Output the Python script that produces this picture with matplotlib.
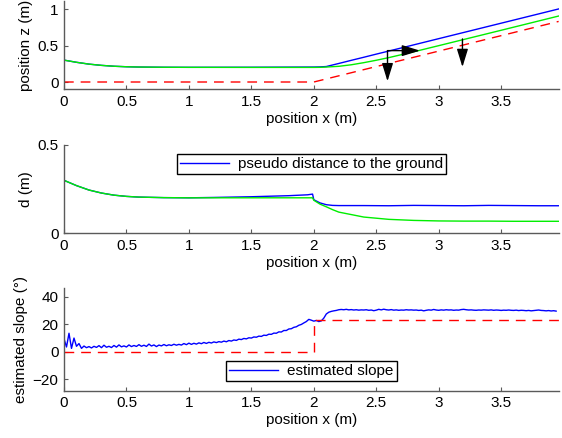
import numpy as np
import matplotlib
matplotlib.use("Agg")
import matplotlib.pyplot as plt

plt.rcParams["font.family"] = ["Liberation Sans", "DejaVu Sans"]
plt.rcParams["font.size"] = 11

# --- top panel: trajectories (position x, position z) ---
traj_x = [0.0, 0.1, 0.2, 0.3, 0.4, 0.5, 0.6, 0.8, 1.0, 1.5, 2.0, 2.05, 2.1,
          2.2, 2.3, 2.4, 2.5, 2.6, 2.8, 3.0, 3.5, 3.96]
z_blue = [0.30, 0.27, 0.245, 0.228, 0.216, 0.209, 0.205, 0.202, 0.201, 0.202, 0.205,
          0.207, 0.212, 0.254, 0.297, 0.339, 0.382, 0.424, 0.509, 0.594, 0.806, 1.001]
z_green = [0.30, 0.27, 0.245, 0.228, 0.216, 0.209, 0.205, 0.202, 0.201, 0.200, 0.200,
           0.201, 0.205, 0.215, 0.236, 0.265, 0.298, 0.334, 0.414, 0.498, 0.709, 0.904]
ground_x = [0.0, 2.0, 3.96]
ground_z = [0.0, 0.0, 0.83]

# --- middle panel: distance to the ground ---
d_x = [0.0, 0.1, 0.2, 0.3, 0.4, 0.5, 0.6, 0.8, 1.0, 1.2, 1.5, 1.8, 1.95, 1.99,
       2.0, 2.05, 2.1, 2.15, 2.2, 2.4, 2.6, 2.8, 3.0, 3.2, 3.4, 3.6, 3.8, 3.96]
d_blue = [0.30, 0.27, 0.245, 0.228, 0.216, 0.209, 0.205, 0.202, 0.201, 0.203, 0.207,
          0.213, 0.218, 0.222, 0.190, 0.172, 0.162, 0.158, 0.157, 0.157, 0.156, 0.158,
          0.157, 0.156, 0.158, 0.157, 0.156, 0.156]
d_green = [0.30, 0.27, 0.245, 0.228, 0.216, 0.209, 0.205, 0.202, 0.201, 0.201, 0.201,
           0.201, 0.201, 0.201, 0.187, 0.165, 0.150, 0.134, 0.120, 0.092, 0.079, 0.073,
           0.070, 0.069, 0.069, 0.068, 0.068, 0.068]

# --- bottom panel: estimated slope (deg), sampled every 0.02 m ---
slope_est = [
    9.5, 3.5, 13.5, 2.5, 10.0, 4.0, 6.0, 2.5, 4.2, 3.0,
    3.8, 2.8, 4.0, 3.2, 4.5, 3.0, 4.8, 3.3, 4.0, 3.1,
    4.6, 3.4, 5.0, 3.6, 4.3, 3.5, 5.0, 3.8, 4.6, 3.9,
    5.2, 4.0, 4.8, 3.9, 5.6, 4.2, 5.0, 3.8, 4.9, 4.3,
    5.3, 4.4, 5.1, 4.6, 5.5, 4.8, 5.4, 4.9, 6.0, 5.2,
    6.3, 5.4, 6.2, 5.6, 6.5, 5.9, 6.8, 6.1, 6.9, 6.4,
    7.2, 6.7, 7.4, 7.0, 7.8, 7.3, 8.2, 7.8, 8.6, 8.3,
    9.2, 8.9, 9.7, 9.4, 10.2, 10.0, 10.8, 10.6, 11.4, 11.2,
    12.1, 11.9, 12.8, 12.7, 13.6, 13.5, 14.5, 14.4, 15.5, 15.5,
    16.6, 16.8, 17.8, 18.2, 19.3, 19.9, 21.0, 22.0, 23.6, 23.0,
    22.3, 22.8, 22.0, 22.5, 24.5, 27.5, 28.8, 29.4, 29.8, 30.1,
    30.6, 30.8, 30.6, 30.9, 30.5, 30.7, 30.4, 30.6, 30.3, 30.5,
    30.4, 30.6, 30.2, 30.4, 29.9, 30.3, 30.9, 30.5, 31.0, 30.6,
    30.4, 30.7, 30.3, 30.5, 30.2, 30.4, 30.3, 30.6, 30.4, 30.5,
    30.3, 30.4, 30.1, 30.3, 29.8, 30.2, 30.5, 30.3, 30.8, 30.4,
    30.2, 30.5, 30.3, 30.6, 30.4, 30.5, 30.2, 30.4, 30.3, 30.7,
    30.9, 30.6, 30.4, 30.5, 30.3, 30.2, 30.4, 30.3, 30.5, 30.4,
    30.3, 30.5, 30.2, 30.4, 30.3, 30.1, 30.3, 30.2, 30.4, 30.2,
    30.1, 30.3, 30.0, 30.2, 30.1, 29.9, 30.1, 29.8, 30.0, 30.2,
    30.4, 30.1, 30.0, 29.8, 30.0, 29.7, 29.9, 29.6,
]
slope_x = np.linspace(0, 0.02 * (len(slope_est) - 1), len(slope_est))
slope_true_x = [0.0, 2.0, 2.0, 3.96]
slope_true = [0.0, 0.0, 23.2, 23.2]

xticks = [0, 0.5, 1, 1.5, 2, 2.5, 3, 3.5]
xticklabels = ["0", "0.5", "1", "1.5", "2", "2.5", "3", "3.5"]

fig = plt.figure(figsize=(5.62, 4.38), dpi=100)
W, H = 562.0, 438.0


def make_axes(top, bottom, left=64, right=559):
    ax = fig.add_axes([left / W, 1 - bottom / H, (right - left) / W, (bottom - top) / H])
    for s in ["top", "right"]:
        ax.spines[s].set_visible(False)
    for s in ["left", "bottom"]:
        ax.spines[s].set_color("#5a5a5a")
        ax.spines[s].set_linewidth(1.0)
    ax.tick_params(direction="in", length=3, width=0.8, color="#5a5a5a",
                   labelsize=11, pad=4)
    ax.set_xlim(0, 3.963)
    ax.set_xticks(xticks)
    ax.set_xticklabels(xticklabels)
    ax.set_xlabel("position x (m)", labelpad=2)
    ax.set_facecolor("none")
    return ax


dash = (0, (7, 5))

# top
ax1 = make_axes(1, 89.3)
ax1.plot(traj_x, z_blue, color="#0000ff", lw=1.0)
ax1.plot(traj_x, z_green, color="#00ee00", lw=1.0)
ax1.plot(ground_x, ground_z, color="#ff0000", lw=1.0, linestyle=dash)
ax1.set_ylim(-0.1, 1.11)
ax1.set_yticks([0, 0.5, 1])
ax1.set_yticklabels(["0", "0.5", "1"])
ax1.set_ylabel("position z (m)", labelpad=3)
arrow_kw = dict(arrowstyle="-|>,head_length=0.55,head_width=0.17", color="black",
                lw=1.0, shrinkA=0, shrinkB=0, mutation_scale=20)
ax1.annotate("", xy=(2.85, 0.43), xytext=(2.59, 0.43), arrowprops=arrow_kw)
ax1.annotate("", xy=(2.59, 0.01), xytext=(2.59, 0.43), arrowprops=arrow_kw)
ax1.annotate("", xy=(3.19, 0.205), xytext=(3.19, 0.59), arrowprops=arrow_kw)

# middle
ax2 = make_axes(145, 233.3)
ax2.plot(d_x, d_blue, color="#0000ff", lw=1.0, label="pseudo distance to the ground")
ax2.plot(d_x, d_green, color="#00ee00", lw=1.0)
ax2.set_ylim(0, 0.5)
ax2.set_yticks([0, 0.5])
ax2.set_yticklabels(["0", "0.5"])
ax2.set_ylabel("d (m)", labelpad=3)
leg2 = ax2.legend(loc="upper center", bbox_to_anchor=(0.5, 0.985), fancybox=False,
                  edgecolor="black", framealpha=1, handlelength=3.2, borderpad=0.2,
                  handletextpad=0.6, fontsize=11)
leg2.get_frame().set_linewidth(1.0)

# bottom
ax3 = make_axes(288.3, 390.7)
ax3.plot(slope_x, slope_est, color="#0000ff", lw=1.0, label="estimated slope")
ax3.plot(slope_true_x, slope_true, color="#ff0000", lw=1.0, linestyle=dash)
ax3.set_ylim(-28.3, 46.2)
ax3.set_yticks([-20, 0, 20, 40])
ax3.set_yticklabels(["\u221220", "0", "20", "40"])
ax3.set_ylabel("estimated slope (\u00b0)", labelpad=3)
leg3 = ax3.legend(loc="lower center", bbox_to_anchor=(0.5, 0.02), fancybox=False,
                  edgecolor="black", framealpha=1, handlelength=3.2, borderpad=0.2,
                  handletextpad=0.6, fontsize=11)
leg3.get_frame().set_linewidth(1.0)

fig.savefig("out.png", dpi=100)
